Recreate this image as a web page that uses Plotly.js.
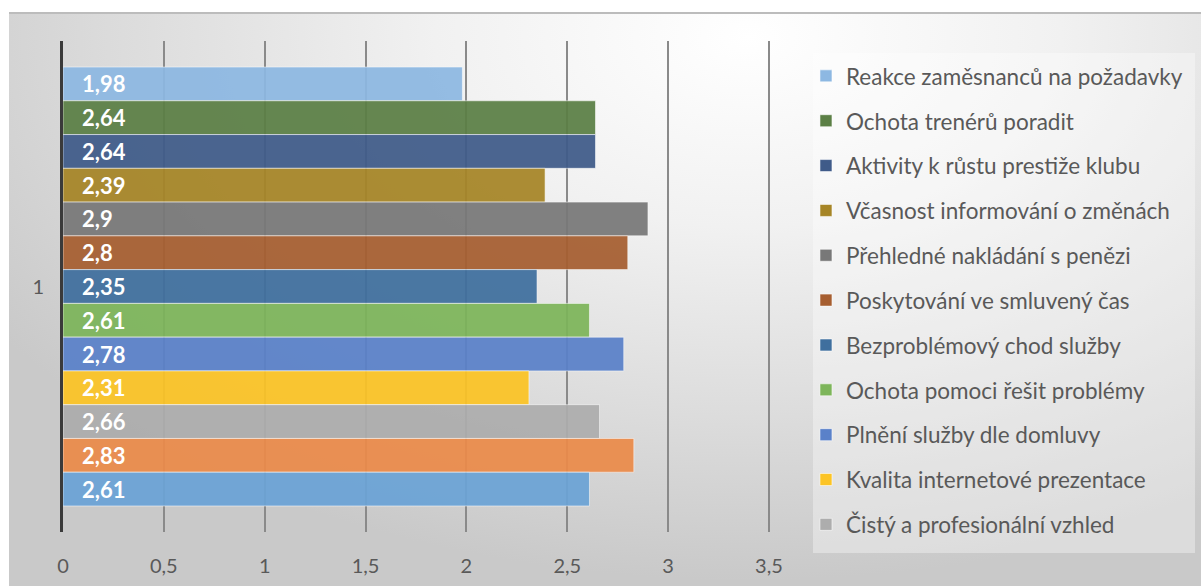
<!DOCTYPE html>
<html>
<head>
<meta charset="utf-8">
<script src="https://cdn.plot.ly/plotly-3.0.1.min.js"></script>
<style>
  html, body { margin: 0; padding: 0; background: #ffffff; }
  #wrap { position: relative; width: 1201px; height: 586px; overflow: hidden; }
  #bg {
    position: absolute; left: 9px; top: 12px; width: 1192px; height: 574px;
    border-top: 2px solid #bcbcbc; box-sizing: border-box;
    background: radial-gradient(ellipse 75% 95% at 62% 4%, #ffffff 0%, #f1f1f1 35%, #dcdcdc 70%, #c9c9c9 100%);
  }
  #chart { position: absolute; left: 0; top: 0; width: 1201px; height: 586px; }
</style>
</head>
<body>
<div id="wrap">
  <div id="bg"></div>
  <div id="chart"></div>
</div>
<script>
// Survey category (single group on the y axis)
const category = ['1'];

// Series, listed top bar first (the y axis runs top-down)
const seriesNames = [
  'Reakce zaměsnanců na požadavky',
  'Ochota trenérů poradit',
  'Aktivity k růstu prestiže klubu',
  'Včasnost informování o změnách',
  'Přehledné nakládání s penězi',
  'Poskytování ve smluvený čas',
  'Bezproblémový chod služby',
  'Ochota pomoci řešit problémy',
  'Plnění služby dle domluvy',
  'Kvalita internetové prezentace',
  'Čistý a profesionální vzhled',
  'Řada 2',
  'Řada 1'
];
const seriesValues = [1.98, 2.64, 2.64, 2.39, 2.9, 2.8, 2.35, 2.61, 2.78, 2.31, 2.66, 2.83, 2.61];
const inLegend = [true, true, true, true, true, true, true, true, true, true, true, false, false];

// X axis ticks
const xTickVals = [0, 0.5, 1, 1.5, 2, 2.5, 3, 3.5];

// Palette
const palette = ['#8db8e2', '#5b7f45', '#3f5b89', '#a68526', '#787878', '#a65e30', '#3f6f9e',
                 '#7db55a', '#5a81c9', '#fcc425', '#adadad', '#eb8b4a', '#6ba3d6'];

const FONT = 'Lato, sans-serif';

const traces = seriesNames.map((name, i) => ({
  type: 'bar',
  orientation: 'h',
  name: name,
  y: category,
  x: [seriesValues[i]],
  showlegend: inLegend[i],
  legendgroup: 'g' + i,
  marker: { color: palette[i], opacity: 0.93, line: { color: 'rgba(255,255,255,0.55)', width: 1 } },
  texttemplate: '\u00a0\u00a0\u00a0%{x:.3~g}',
  textposition: 'inside',
  insidetextanchor: 'start',
  textangle: 0,
  constraintext: 'none',
  textfont: { family: FONT, size: 22, color: '#ffffff', weight: 'bold' },
  hoverinfo: 'name+x'
}));

const layout = {
  width: 1201,
  height: 586,
  margin: { l: 63, r: 430, t: 41, b: 54 },
  paper_bgcolor: 'rgba(0,0,0,0)',
  plot_bgcolor: 'rgba(0,0,0,0)',
  separators: ', ',
  barmode: 'group',
  bargap: 0.106,
  bargroupgap: 0,
  font: { family: FONT, color: '#595959' },
  xaxis: {
    range: [0, 3.51],
    tickvals: xTickVals,
    tickformat: '~g',
    showgrid: true,
    gridcolor: '#8a8a8a',
    gridwidth: 2,
    zeroline: false,
    showline: false,
    ticks: 'outside',
    ticklen: 16,
    tickcolor: 'rgba(0,0,0,0)',
    tickfont: { size: 20, color: '#595959', family: FONT },
    fixedrange: true
  },
  yaxis: {
    type: 'category',
    autorange: 'reversed',
    showline: true,
    linecolor: '#3a3a3a',
    linewidth: 3,
    showgrid: false,
    zeroline: false,
    ticks: 'outside',
    ticklen: 12,
    tickcolor: 'rgba(0,0,0,0)',
    tickfont: { size: 20, color: '#595959', family: FONT },
    fixedrange: true
  },
  legend: {
    x: 1.0494,
    xanchor: 'left',
    y: 0.972,
    yanchor: 'top',
    bgcolor: 'rgba(0,0,0,0)',
    traceorder: 'grouped',
    tracegroupgap: 12.6,
    font: { size: 22.5, color: '#595959', family: FONT }
  },
  shapes: [{
    type: 'rect', xref: 'paper', yref: 'paper', layer: 'below',
    x0: 1.0593, x1: 1.5989, y0: -0.0428, y1: 0.9756,
    fillcolor: 'rgba(255,255,255,0.35)', line: { width: 0 }
  }]
};

Plotly.newPlot('chart', traces, layout, { displayModeBar: false, staticPlot: true });
</script>
</body>
</html>
